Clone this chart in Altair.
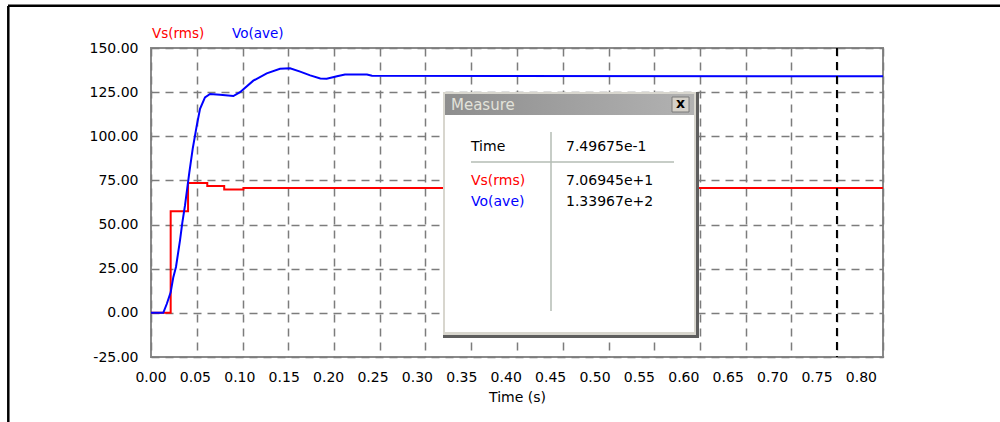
import altair as alt
import pandas as pd

# ---- traces (time in s, volts) ----
vs_time = [0.0, 0.0215, 0.0405, 0.0615, 0.0800, 0.1010, 0.749675, 0.80]
vs_value = [0.0, 57.5, 73.5, 71.8, 69.9, 70.6945, 70.6945, 70.6945]

vo_time = [0.0, 0.0134, 0.0172, 0.0215, 0.0244, 0.0273, 0.0317, 0.0342, 0.0372,
           0.0419, 0.0456, 0.0500, 0.0536, 0.0590, 0.0645, 0.0754, 0.0900, 0.0973,
           0.1118, 0.1265, 0.1410, 0.1520, 0.1630, 0.1740, 0.1850, 0.1920, 0.2033,
           0.2120, 0.2360, 0.2415, 0.749675, 0.80]
vo_value = [0.0, 0.0, 5.0, 11.6, 20.2, 26.0, 41.0, 51.0, 61.0,
            79.5, 93.0, 106.0, 115.6, 122.0, 124.0, 123.5, 122.8, 125.0,
            131.5, 135.6, 138.2, 138.5, 136.6, 134.5, 132.7, 132.6, 134.0,
            135.0, 135.0, 134.3, 133.967, 133.967]

x_ticks = [0.0, 0.05, 0.10, 0.15, 0.20, 0.25, 0.30, 0.35, 0.40,
           0.45, 0.50, 0.55, 0.60, 0.65, 0.70, 0.75, 0.80]
y_ticks = [-25, 0, 25, 50, 75, 100, 125, 150]

series_names = ["Vs(rms)", "Vo(ave)"]
series_colors = ["#ff0000", "#0000ff"]

# cursor readout
cursor_time = 0.749675
cursor_vs = 70.6945
cursor_vo = 133.967

FONT = "DejaVu Sans"


def sci(v):
    mant, exp = f"{v:.5e}".split("e")
    return f"{mant}e{int(exp):+d}"


vs_df = pd.DataFrame({"t": vs_time, "v": vs_value})
vo_df = pd.DataFrame({"t": vo_time, "v": vo_value})
cursor_df = pd.DataFrame({"t": [cursor_time]})
one = pd.DataFrame({"k": [0]})

x_enc = alt.X(
    "t:Q",
    scale=alt.Scale(domain=[0, 0.8], nice=False, zero=False),
    axis=alt.Axis(
        values=x_ticks, format=".2f", title="Time (s)",
        grid=True, gridDash=[8, 6], gridColor="#7c7c7c", gridWidth=1.5,
        ticks=False, tickSize=0, domain=False,
        labelFlush=False, labelOverlap=False,
        labelPadding=13, labelFont=FONT, labelFontSize=14, labelColor="#000000",
        labelOffset=alt.ExprRef(expr="-0.5 - datum.value * 27"),
        titleFont=FONT, titleFontSize=14, titleFontWeight="normal",
        titleColor="#000000", titlePadding=6,
    ),
)
y_enc = alt.Y(
    "v:Q",
    scale=alt.Scale(domain=[-25, 150], nice=False, zero=False),
    axis=alt.Axis(
        values=y_ticks, title=None,
        labelExpr="replace(format(datum.value, '.2f'), '\u2212', '-')",
        grid=True, gridDash=[8, 6], gridColor="#7c7c7c", gridWidth=1.5,
        ticks=False, tickSize=0, domain=False,
        labelFlush=False, labelOverlap=False,
        labelPadding=13, labelFont=FONT, labelFontSize=14, labelColor="#000000",
    ),
)

vs_line = alt.Chart(vs_df).mark_line(
    color=series_colors[0], strokeWidth=2, interpolate="step-after"
).encode(x=x_enc, y=y_enc)

vo_line = alt.Chart(vo_df).mark_line(
    color=series_colors[1], strokeWidth=2
).encode(x="t:Q", y="v:Q")

cursor = alt.Chart(cursor_df).mark_rule(
    color="#000000", strokeWidth=2, strokeDash=[8, 6]
).encode(x="t:Q")


def rect(x1, x2, y1, y2, fill, **kw):
    return alt.Chart(one).mark_rect(fill=fill, **kw).encode(
        x=alt.value(x1), x2=alt.value(x2), y=alt.value(y1), y2=alt.value(y2)
    )


def label(txt, x, y, color="#000000", size=14, align="left", weight="normal"):
    return alt.Chart(one).mark_text(
        text=txt, align=align, baseline="middle", font=FONT,
        fontSize=size, color=color, fontWeight=weight,
    ).encode(x=alt.value(x), y=alt.value(y))


def hline(x1, x2, y, color, width=1.5):
    return alt.Chart(one).mark_rule(color=color, strokeWidth=width).encode(
        x=alt.value(x1), x2=alt.value(x2), y=alt.value(y)
    )


def vline(x, y1, y2, color, width=1.5):
    return alt.Chart(one).mark_rule(color=color, strokeWidth=width).encode(
        x=alt.value(x), y=alt.value(y1), y2=alt.value(y2)
    )


title_grad = alt.LinearGradient(
    gradient="linear",
    stops=[alt.GradientStop(color="#8e8e8e", offset=0),
           alt.GradientStop(color="#b2b2b2", offset=1)],
    x1=0, x2=1, y1=0, y2=0,
)

# Measure window
measure = [
    rect(292, 548, 44, 290, "#5e5e5e"),
    rect(292, 545, 44, 287, "#d8d6ce"),
    rect(294, 543, 46, 67, "#a0a0a0").mark_rect(fill=title_grad),
    rect(294, 543, 67, 284, "#ffffff"),
    label("Measure", 300, 56.5, color="#e2e2da", size=15),
    rect(521, 538, 49, 64, "#d4d0c8", stroke="#7a7a7a", strokeWidth=1),
    label("x", 529.5, 56, size=14, align="center", weight="bold"),
    label("Time", 320, 98.7),
    label(sci(cursor_time), 415, 98.7),
    hline(320, 523, 114, "#b4bcb4"),
    vline(400, 84, 263, "#b4bcb4"),
    label(series_names[0], 320, 132.7, color=series_colors[0]),
    label(sci(cursor_vs), 415, 132.7),
    label(series_names[1], 320, 154.3, color=series_colors[1]),
    label(sci(cursor_vo), 415, 154.3),
]

# header legend and page frame
extras = [
    label(series_names[0], 1, -14.5, color=series_colors[0], size=13.5),
    label(series_names[1], 81, -14.5, color=series_colors[1], size=13.5),
    hline(-143, 849, -42.3, "#000000", width=2.5),
    vline(-142.7, -42, 374, "#000000", width=2.5),
]

chart = alt.layer(
    vs_line, vo_line, cursor, *measure, *extras
).properties(
    width=732, height=309,
    padding={"left": 151, "top": 48, "right": 117, "bottom": 65},
    autosize=alt.AutoSizeParams(type="none"),
    background="#ffffff",
).configure_view(
    stroke="#8a8a8a", strokeWidth=2
)

chart.save("out.html", embed_options={"renderer": "svg", "actions": False})
